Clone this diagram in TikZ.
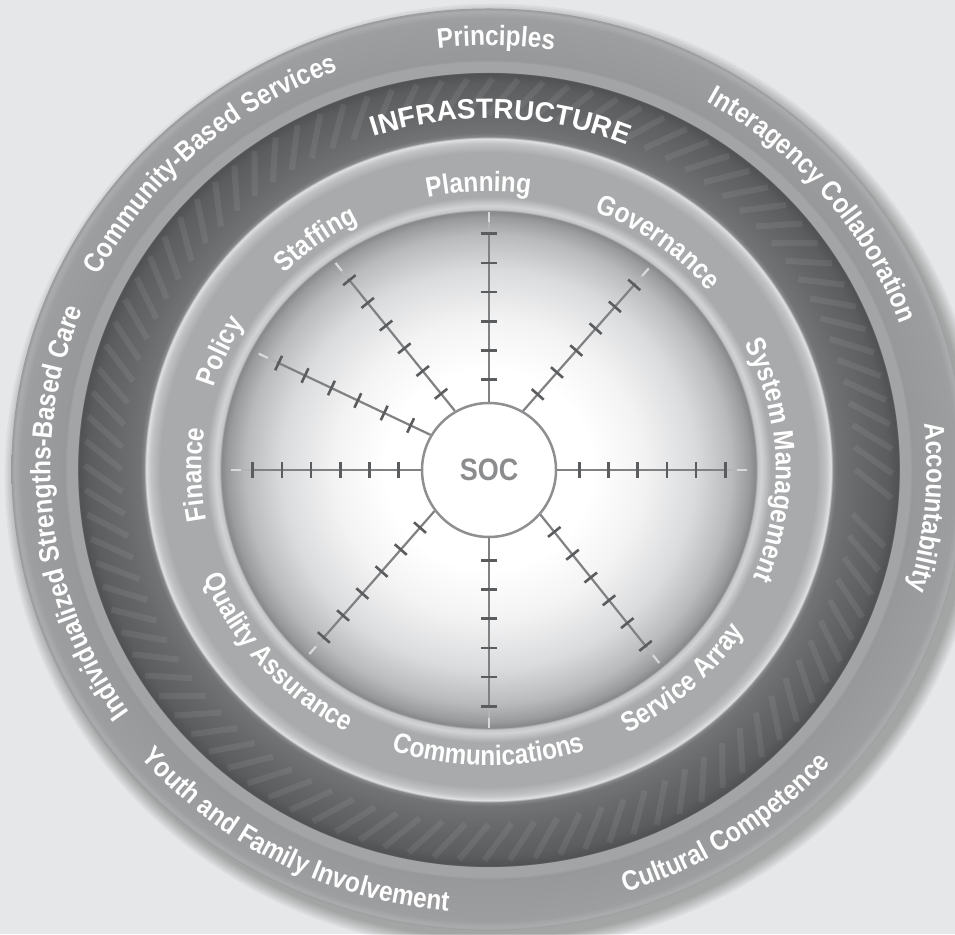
\documentclass[tikz,border=0pt]{standalone}
\usepackage{fontspec}
\usetikzlibrary{calc,decorations.text}
\newfontfamily\lblfont{Liberation Sans}[FakeStretch=0.87]
\newfontfamily\capfont{Liberation Sans}
\definecolor{bgc}{HTML}{E6E7E8}
\definecolor{c1}{HTML}{F3F3F4}
\definecolor{c2}{HTML}{DADBDC}
\definecolor{c3}{HTML}{B9BABC}
\definecolor{c4}{HTML}{9A9B9D}
\definecolor{c5}{HTML}{87888A}
\definecolor{c6}{HTML}{C4C5C7}
\definecolor{c7}{HTML}{D2D3D5}
\definecolor{c8}{HTML}{A9AAAC}
\definecolor{c9}{HTML}{C2C3C5}
\definecolor{c10}{HTML}{E0E1E2}
\definecolor{c11}{HTML}{86878A}
\definecolor{c12}{HTML}{727375}
\definecolor{c13}{HTML}{68696B}
\definecolor{c14}{HTML}{5C5D5F}
\definecolor{c15}{HTML}{505153}
\definecolor{c16}{HTML}{A3A4A6}
\definecolor{c17}{HTML}{97989A}
\definecolor{c18}{HTML}{9D9EA0}
\definecolor{c19}{HTML}{ABACAE}
\definecolor{c20}{HTML}{999A9C}
\definecolor{spokec}{HTML}{808183}
\definecolor{tickc}{HTML}{5B5C5E}
\definecolor{socline}{HTML}{8E8F91}
\definecolor{soctext}{HTML}{8B8C8E}
\pgfdeclareradialshading{rings}{\pgfpointorigin}{%
 color(0bp)=(white);
 color(5.4bp)=(white);
 color(8.1bp)=(c1);
 color(10.85bp)=(c2);
 color(12.74bp)=(c3);
 color(13.67bp)=(c4);
 color(14.0bp)=(c5);
 color(14.1bp)=(c6);
 color(14.3bp)=(c7);
 color(14.8bp)=(c8);
 color(17.2bp)=(c8);
 color(17.7bp)=(c9);
 color(17.95bp)=(c10);
 color(18.05bp)=(c11);
 color(18.25bp)=(c12);
 color(19.3bp)=(c13);
 color(20.9bp)=(c14);
 color(21.5bp)=(c15);
 color(21.55bp)=(c16);
 color(22.1bp)=(c16);
 color(22.2bp)=(c17);
 color(24.5bp)=(c18);
 color(24.85bp)=(c19);
 color(25bp)=(c20);
 color(50bp)=(c20)}
\newcommand\xr{1.033}
\newcommand\cwlabel[4]{%
  \pgfmathsetmacro\aS{#1+#2}\pgfmathsetmacro\aE{#1-#2}\pgfmathsetmacro\rX{\xr*#3}%
  \path[decorate,decoration={text along path,text align=center,text={#4}}]
    (\aS:\rX\space and #3) arc[start angle=\aS,end angle=\aE,x radius=\rX,y radius=#3];}
\newcommand\ccwlabel[4]{%
  \pgfmathsetmacro\aS{#1-#2}\pgfmathsetmacro\aE{#1+#2}\pgfmathsetmacro\rX{\xr*#3}%
  \path[decorate,decoration={text along path,text align=center,text={#4}}]
    (\aS:\rX\space and #3) arc[start angle=\aS,end angle=\aE,x radius=\rX,y radius=#3];}
\newcommand\lf{|\lblfont\bfseries\fontsize{28}{28}\selectfont\color{white}|}
\begin{document}
\begin{tikzpicture}[x=1pt,y=1pt,
  spoke/.style={draw=spokec,line width=2.2pt},
  spokefade/.style={draw=spokec!60!white,line width=2.2pt},
  tickmark/.style={draw=tickc,line width=2.6pt},
  streak/.style={draw=white,opacity=0.07,line width=6pt},
  shadowring/.style={fill=black,opacity=0.035}]
\useasboundingbox (0,0) rectangle (955,934);
\clip (0,0) rectangle (955,934);
\fill[bgc] (0,0) rectangle (955,934);
\coordinate (C) at (488.5,464.5);
\coordinate (Cs) at (494.5,456.5);
% drop shadow
\foreach \k in {0,...,8}
  \fill[shadowring] (Cs) ellipse[x radius={477+\k*1.6}, y radius={461+\k*1.6}];
% rings
\shade[shading=rings] (C) ellipse[x radius=477, y radius=461];
% streaks in dark band
\begin{scope}[shift={(C)}]
\foreach \t in {0,3.6,...,356.4}
  \draw[streak] (\t:367 and 355) -- ({\t-4.2}:404 and 391);
\end{scope}
% SOC hub
\node[circle,draw=socline,line width=2.5pt,fill=white,minimum size=134pt,inner sep=0pt,
  font=\lblfont\bfseries\fontsize{31}{31}\selectfont,text=soctext] (soc) at (489,464) {SOC};
% spokes
\foreach \sa/\da [count=\i] in {90/90,60.8/48.6,0/0,-41.4/-51.3,270/270,217/228.8,180/180,149/154.7,120/128.9}{
  \coordinate (st\i) at (soc.\sa);
  \coordinate (fa\i) at ($(st\i)+(\da:170)$);
  \coordinate (fb\i) at ($(st\i)+(\da:180)$);
  \coordinate (en\i) at ($(st\i)+(\da:190)$);
  \draw[spoke] (st\i) -- (fa\i);
  \draw[spokefade] (fa\i) -- (fb\i);
  \draw[spokefade,draw=spokec!30!white] (fb\i) -- (en\i);
  \foreach \d in {22,51.2,80.4,109.6,138.8,168}
    \draw[tickmark] ($(st\i)+(\da:\d)+({\da+90}:8)$) -- ($(st\i)+(\da:\d)+({\da-90}:8)$);
}
% labels
\begin{scope}[shift={(C)}]
\cwlabel{89}{60}{424}{\lf Principles}
\cwlabel{132}{60}{424}{\lf Community-Based Services}
\cwlabel{39.5}{60}{424}{\lf Interagency Collaboration}
\cwlabel{-5}{60}{424}{\lf Accountability}
\cwlabel{186.3}{60}{424}{\lf Individualized Strengths-Based Care}
\ccwlabel{242.3}{60}{443}{\lf Youth and Family Involvement}
\ccwlabel{-56.5}{60}{443}{\lf Cultural Competence}
\cwlabel{88}{60}{351}{|\capfont\bfseries\fontsize{28}{28}\selectfont\color{white}|INFRASTRUCTURE}
\cwlabel{92}{60}{278}{\lf Planning}
\cwlabel{126.7}{60}{278}{\lf Staffing}
\cwlabel{53.5}{60}{278}{\lf Governance}
\cwlabel{2}{60}{278}{\lf System Management}
\cwlabel{181}{60}{278}{\lf Finance}
\cwlabel{156}{60}{278}{\lf Policy}
\ccwlabel{270}{60}{296}{\lf Communications}
\ccwlabel{221.3}{60}{296}{\lf Quality Assurance}
\ccwlabel{-47.4}{60}{296}{\lf Service Array}
\end{scope}
\end{tikzpicture}
\end{document}
